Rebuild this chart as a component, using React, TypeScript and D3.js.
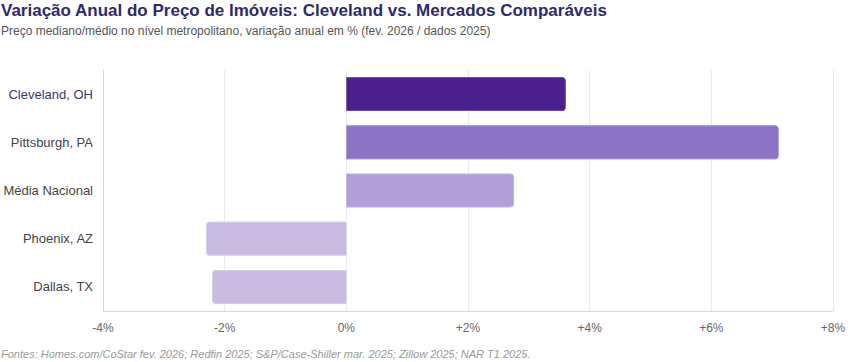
import React, { useEffect, useRef } from 'react';
import * as d3 from 'd3';

const markets = ['Cleveland, OH', 'Pittsburgh, PA', 'Média Nacional', 'Phoenix, AZ', 'Dallas, TX'];
const yoyChange = [3.6, 7.1, 2.75, -2.3, -2.2];
const barColors = ['#4b1f8e', '#8b73c5', '#b19fda', '#c9bae1', '#c9bae1'];
const barBorders = ['#6a4bb0', '#a08ad3', '#c3b4e4', '#d9cdeb', '#d9cdeb'];
const xTicks = [-4, -2, 0, 2, 4, 6, 8];

const W = 848;
const H = 362;
const margin = { top: 70, right: 15, bottom: 51, left: 103 };

const App: React.FC = () => {
  const svgRef = useRef<SVGSVGElement>(null);

  useEffect(() => {
    document.body.style.margin = '0';
    if (!svgRef.current) return;
    const svg = d3.select(svgRef.current);
    svg.selectAll('*').remove();

    const innerW = W - margin.left - margin.right;
    const innerH = H - margin.top - margin.bottom;
    const font = '"Liberation Sans", Arial, sans-serif';

    const x = d3.scaleLinear().domain([-4, 8]).range([0, innerW]);
    const y = d3.scaleBand<string>()
      .domain(markets)
      .range([0, innerH])
      .paddingInner(0.3)
      .paddingOuter(0.15);

    // title + subtitle
    svg.append('text')
      .attr('x', 1).attr('y', 16)
      .attr('font-family', font).attr('font-size', 17).attr('font-weight', 'bold')
      .attr('fill', '#2e2a6b')
      .text('Variação Anual do Preço de Imóveis: Cleveland vs. Mercados Comparáveis');
    svg.append('text')
      .attr('x', 1).attr('y', 35)
      .attr('font-family', font).attr('font-size', 12)
      .attr('fill', '#555')
      .text('Preço mediano/médio no nível metropolitano, variação anual em % (fev. 2026 / dados 2025)');

    const g = svg.append('g').attr('transform', `translate(${margin.left},${margin.top})`);

    // grid
    g.selectAll('.grid')
      .data(xTicks)
      .enter()
      .append('line')
      .attr('x1', d => x(d)).attr('x2', d => x(d))
      .attr('y1', 0).attr('y2', innerH)
      .attr('stroke', '#ebebeb').attr('stroke-width', 1)
      .attr('shape-rendering', 'crispEdges');

    // axis lines
    g.append('line')
      .attr('x1', 0).attr('x2', 0).attr('y1', 0).attr('y2', innerH)
      .attr('stroke', '#d6d6d6').attr('shape-rendering', 'crispEdges');
    g.append('line')
      .attr('x1', 0).attr('x2', innerW).attr('y1', innerH).attr('y2', innerH)
      .attr('stroke', '#d6d6d6').attr('shape-rendering', 'crispEdges');

    // bars with rounded outer end
    const r = 3;
    const barPath = (v: number, top: number, h: number) => {
      const x0 = x(0);
      const x1 = x(v);
      const s = v >= 0 ? -1 : 1;
      const p = d3.path();
      p.moveTo(x0, top);
      p.lineTo(x1 + s * r, top);
      p.arcTo(x1, top, x1, top + r, r);
      p.lineTo(x1, top + h - r);
      p.arcTo(x1, top + h, x1 + s * r, top + h, r);
      p.lineTo(x0, top + h);
      return p.toString();
    };

    markets.forEach((m, i) => {
      const top = y(m)!;
      const h = y.bandwidth();
      g.append('path')
        .attr('d', barPath(yoyChange[i], top, h) + 'Z')
        .attr('fill', barColors[i]);
      g.append('path')
        .attr('d', barPath(yoyChange[i], top + 0.5, h - 1))
        .attr('fill', 'none')
        .attr('stroke', barBorders[i])
        .attr('stroke-width', 1);
    });

    // y labels
    g.selectAll('.ylab')
      .data(markets)
      .enter()
      .append('text')
      .attr('x', -10)
      .attr('y', d => y(d)! + y.bandwidth() / 2)
      .attr('dy', '0.35em')
      .attr('text-anchor', 'end')
      .attr('font-family', font).attr('font-size', 13)
      .attr('fill', (d, i) => (i === 0 ? '#3a3872' : '#444'))
      .text(d => d);

    // x tick labels
    g.selectAll('.xlab')
      .data(xTicks)
      .enter()
      .append('text')
      .attr('x', d => x(d))
      .attr('y', innerH + 21)
      .attr('text-anchor', 'middle')
      .attr('font-family', font).attr('font-size', 12)
      .attr('fill', '#666')
      .text(d => (d > 0 ? `+${d}%` : `${d}%`));

    // footer
    svg.append('text')
      .attr('x', 1).attr('y', 358)
      .attr('font-family', font).attr('font-size', 11).attr('font-style', 'italic')
      .attr('fill', '#999')
      .text('Fontes: Homes.com/CoStar fev. 2026; Redfin 2025; S&P/Case-Shiller mar. 2025; Zillow 2025; NAR T1 2025.');
  }, []);

  return <svg ref={svgRef} width={W} height={H} style={{ display: 'block' }} />;
};

export default App;
